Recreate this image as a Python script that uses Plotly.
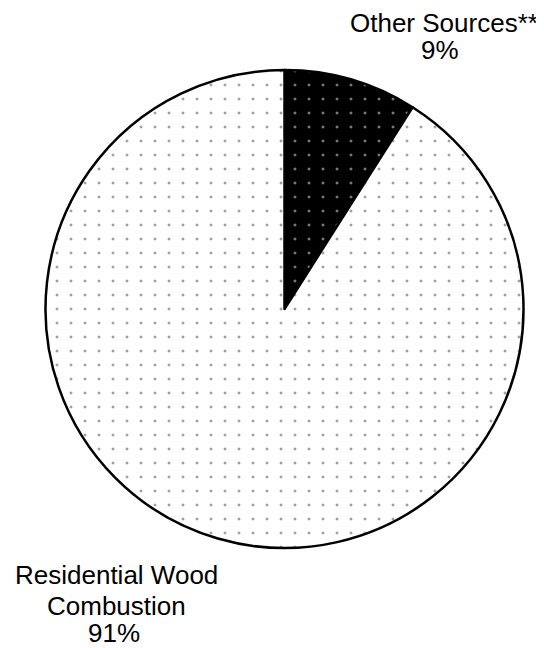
import plotly.graph_objects as go

labels = ["Other Sources**", "Residential Wood Combustion"]
values = [9, 91]
label_lines = [["Other Sources**", "9%"], ["Residential Wood", "Combustion", "91%"]]
slice_colors = ["black", "white"]
dot_colors = ["#eeeeee", "#444444"]

OFF = 8  # default page body margin
W, H = 544 - OFF, 648 - OFF
cx, cy, r = 284.5 - OFF, 309 - OFF, 239

fig = go.Figure()
fig.add_trace(go.Pie(
    labels=labels,
    values=values,
    sort=False,
    direction="clockwise",
    rotation=0,
    textinfo="none",
    hoverinfo="skip",
    showlegend=False,
    marker=dict(
        colors=slice_colors,
        line=dict(color="black", width=2.5),
        pattern=dict(shape=[".", "."], fgcolor=dot_colors, size=14,
                     solidity=0.036, fillmode="overlay"),
    ),
    domain=dict(x=[(cx - r) / W, (cx + r) / W], y=[1 - (cy + r) / H, 1 - (cy - r) / H]),
))

font = dict(family="Liberation Sans, Arial, sans-serif", size=26, color="black")
# label line centers (reference pixel positions)
top_pos = [(444, 23), (440, 50)]
bot_pos = [(116, 575), (116, 606), (114, 633)]
for (lx, ly), txt in zip(top_pos, label_lines[0]):
    fig.add_annotation(x=(lx - OFF) / W, y=1 - (ly - OFF) / H, xref="paper", yref="paper",
                       text=txt, showarrow=False, font=font, xanchor="center", yanchor="middle")
for (lx, ly), txt in zip(bot_pos, label_lines[1]):
    fig.add_annotation(x=(lx - OFF) / W, y=1 - (ly - OFF) / H, xref="paper", yref="paper",
                       text=txt, showarrow=False, font=font, xanchor="center", yanchor="middle")

fig.update_layout(width=W, height=H, margin=dict(l=0, r=0, t=0, b=0),
                  paper_bgcolor="white", plot_bgcolor="white")
fig.write_html("out.html")
